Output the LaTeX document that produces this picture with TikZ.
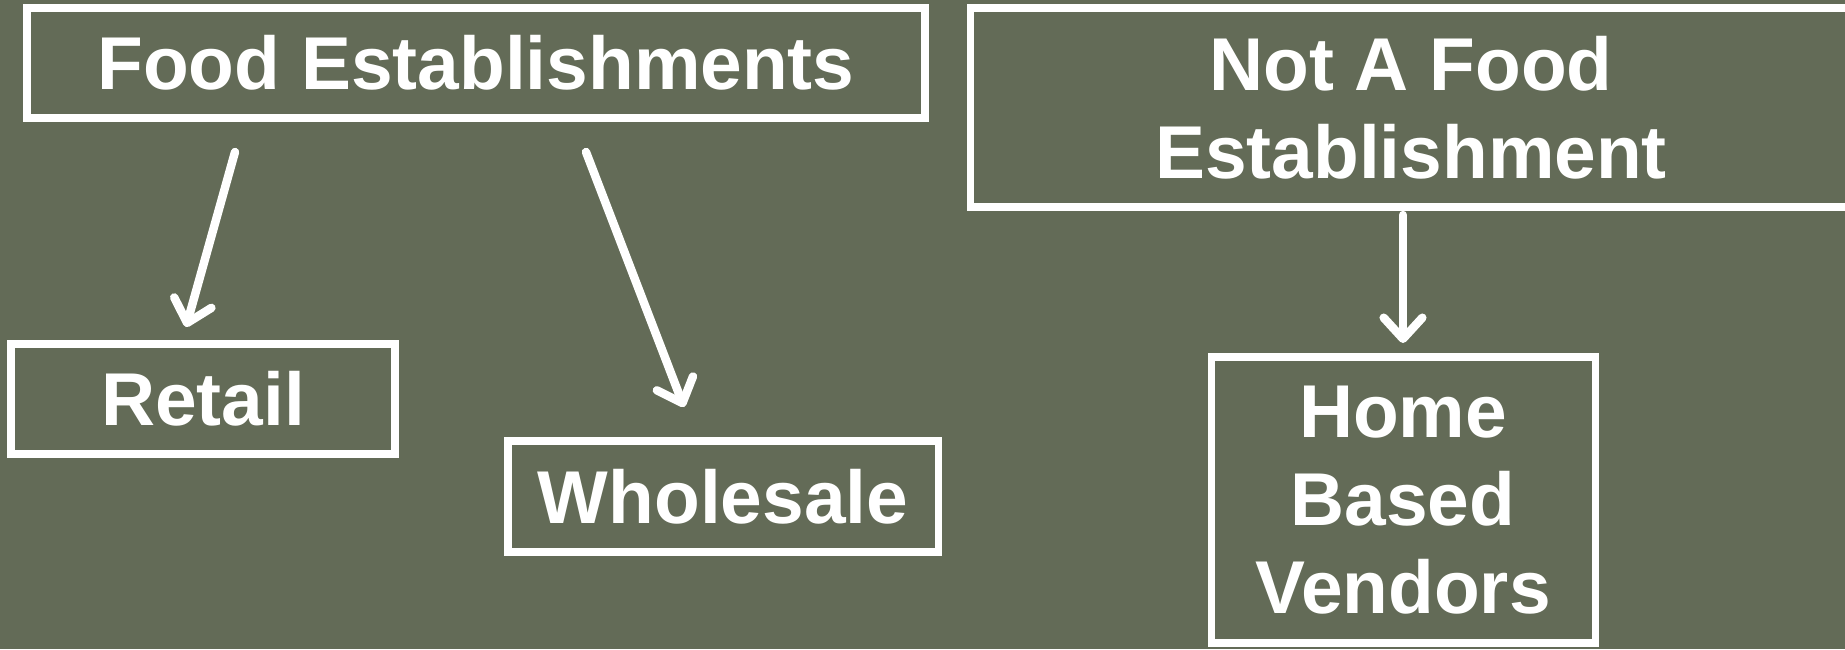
\documentclass[tikz,border=0pt]{standalone}
\usepackage{fontspec}
\setmainfont{Liberation Sans}
\usetikzlibrary{arrows.meta}
\definecolor{slate}{RGB}{99,107,87}
\begin{document}
\begin{tikzpicture}[
		box/.style={draw=white,line width=2pt,outer sep=0pt,inner sep=0pt,
			text=white,align=center,
			font=\fontsize{21.3}{25}\selectfont\bfseries},
		arrow/.style={draw=white,line width=2.4pt,line cap=round,
			-{Straight Barb[length=6pt,width=11pt,round]}}
	]
	\fill[slate] (0,0) rectangle (18.45,-6.49);
	\clip (0,0) rectangle (18.45,-6.49);
	% top row
	\node[box,minimum width=8.98cm,minimum height=1.10cm] (fe) at (4.76,-0.63) {Food Establishments};
	\node[box,minimum width=8.82cm,minimum height=1.99cm] (nafe) at (14.11,-1.075) {Not A Food\\Establishment};
	% bottom row
	\node[box,minimum width=3.84cm,minimum height=1.10cm] (retail) at (2.03,-3.99) {Retail};
	\node[box,minimum width=4.30cm,minimum height=1.11cm] (whole) at (7.23,-4.965) {Wholesale};
	\node[box,minimum width=3.84cm,minimum height=2.86cm] (hbv) at (14.03,-5.00) {Home\\Based\\Vendors};
	% arrows
	\draw[arrow] ([xshift=-2.41cm,yshift=-0.34cm]fe.south) -- ([xshift=-0.17cm,yshift=0.17cm]retail.north);
	\draw[arrow] ([xshift=1.10cm,yshift=-0.34cm]fe.south) -- ([xshift=-0.39cm,yshift=0.34cm]whole.north);
	\draw[arrow] ([xshift=-0.08cm,yshift=-0.08cm]nafe.south) -- ([yshift=0.14cm]hbv.north);
\end{tikzpicture}
\end{document}
